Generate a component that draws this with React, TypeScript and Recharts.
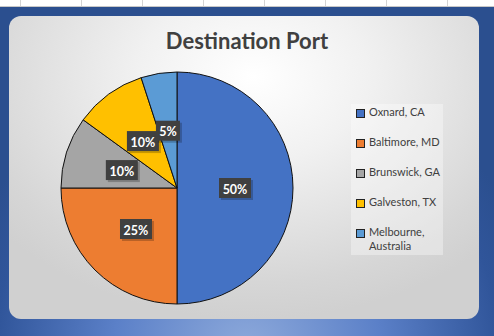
import React from 'react';
import { PieChart, Pie, Cell, Legend, type PieLabelRenderProps } from 'recharts';

const PORTS = ['Oxnard, CA', 'Baltimore, MD', 'Brunswick, GA', 'Galveston, TX', 'Melbourne, Australia'];
const SHARES = [50, 25, 10, 10, 5];
const COLORS = ['#4472c4', '#ed7d31', '#a5a5a5', '#ffc000', '#5b9bd5'];

const data = PORTS.map((name, i) => ({ name, value: SHARES[i] }));
const GRID_X = [20, 81, 142, 203, 264, 325, 386, 447];
const FONT = 'Lato, "Open Sans", sans-serif';

const renderLabel = ({ cx = 0, cy = 0, midAngle = 0, outerRadius = 0, percent = 0 }: PieLabelRenderProps) => {
  const RADIAN = Math.PI / 180;
  const r = Number(outerRadius) * 0.5;
  const x = Number(cx) + r * Math.cos(-Number(midAngle) * RADIAN);
  const y = Number(cy) + r * Math.sin(-Number(midAngle) * RADIAN);
  const text = `${Math.round(percent * 100)}%`;
  const w = text.length * 8 + 8;
  const h = 20;
  return (
    <g>
      <rect x={x - w / 2 + 2} y={y - h / 2 + 2} width={w} height={h} fill="rgba(0,0,0,0.22)" />
      <rect x={x - w / 2} y={y - h / 2} width={w} height={h} fill="#404040" />
      <text
        x={x}
        y={y + 1}
        fill="#fff"
        textAnchor="middle"
        dominantBaseline="central"
        style={{ fontSize: 12.5, fontWeight: 700, fontFamily: FONT }}
      >
        {text}
      </text>
    </g>
  );
};

const renderLegend = () => (
  <div style={{ background: 'rgba(255,255,255,0.35)', width: '100%', height: '100%', fontFamily: FONT }}>
    {data.map((d, i) => (
      <div key={d.name} style={{ display: 'flex', alignItems: 'flex-start', height: 30, paddingTop: 1, boxSizing: 'border-box' }}>
        <span
          style={{
            width: 7,
            height: 7,
            marginTop: 4,
            marginLeft: 5,
            marginRight: 4,
            background: COLORS[i],
            border: '1px solid #222',
            flexShrink: 0,
          }}
        />
        <span style={{ fontSize: 11, lineHeight: '14px', color: '#404040' }}>{d.name}</span>
      </div>
    ))}
  </div>
);

export default function App() {
  return (
    <div
      style={{
        position: 'absolute',
        left: 0,
        top: 0,
        width: 494,
        height: 336,
        overflow: 'hidden',
        background: 'radial-gradient(ellipse 60% 90% at 50% 105%, #8eaadb 0%, #5b80c8 45%, #30559a 85%, #2b4f8f 100%)',
      }}
    >
      {/* spreadsheet strip above the chart */}
      <div style={{ position: 'absolute', left: 0, top: 0, width: 494, height: 6, background: '#fff', borderBottom: '1px solid #c8c8c8' }}>
        {GRID_X.map((gx) => (
          <div key={gx} style={{ position: 'absolute', left: gx, top: 0, width: 1, height: 6, background: '#d4d4d4' }} />
        ))}
      </div>
      {/* chart card */}
      <div
        style={{
          position: 'absolute',
          left: 9,
          top: 16,
          width: 470,
          height: 303,
          borderRadius: 12,
          background: 'radial-gradient(ellipse 70% 80% at 52% 20%, #ffffff 0%, #f1f1f1 35%, #d6d6d6 85%, #d0d0d0 100%)',
        }}
      />
      <div
        style={{
          position: 'absolute',
          left: 0,
          top: 27,
          width: 494,
          textAlign: 'center',
          fontFamily: FONT,
          fontWeight: 700,
          fontSize: 22,
          color: '#404040',
        }}
      >
        Destination Port
      </div>
      <div style={{ position: 'absolute', left: 0, top: 0 }}>
        <PieChart width={494} height={336} margin={{ top: 0, right: 0, bottom: 0, left: 0 }}>
          <Pie
            data={data}
            dataKey="value"
            nameKey="name"
            cx={177}
            cy={188}
            outerRadius={116}
            startAngle={90}
            endAngle={-270}
            stroke="#111"
            strokeWidth={1}
            labelLine={false}
            label={renderLabel}
            isAnimationActive={false}
          >
            {data.map((entry, index) => (
              <Cell key={`cell-${index}`} fill={COLORS[index]} />
            ))}
          </Pie>
          <Legend content={renderLegend} wrapperStyle={{ left: 351, top: 104, width: 92, height: 151 }} />
        </PieChart>
      </div>
    </div>
  );
}
